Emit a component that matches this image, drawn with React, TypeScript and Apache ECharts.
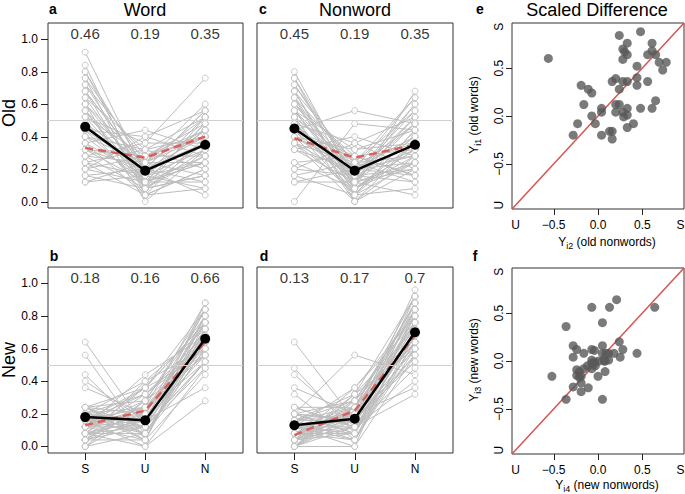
import React, { useEffect, useRef } from "react";
import * as echarts from "echarts";

const conditions = ["S", "U", "N"];
const propTicks = [0, 0.2, 0.4, 0.6, 0.8, 1.0];
const diffTicks = [-0.5, 0, 0.5];
const diffLabels = [-0.93, -0.5, 0, 0.5, 0.93];

// per subject [S, U, N] proportions
const oldWord: number[][] = [
  [0.92,0.16,0.44],[0.84,0.08,0.52],[0.80,0.20,0.56],[0.80,0.12,0.48],[0.76,0.24,0.60],[0.76,0.04,0.40],
  [0.72,0.16,0.52],[0.72,0.28,0.44],[0.68,0.08,0.36],[0.68,0.20,0.56],[0.64,0.12,0.48],[0.64,0.32,0.40],
  [0.60,0.00,0.32],[0.60,0.24,0.52],[0.60,0.16,0.44],[0.56,0.20,0.36],[0.56,0.08,0.28],[0.52,0.36,0.76],
  [0.52,0.12,0.24],[0.52,0.28,0.48],[0.48,0.04,0.20],[0.48,0.24,0.40],[0.48,0.16,0.32],[0.44,0.40,0.28],
  [0.44,0.20,0.36],[0.44,0.08,0.16],[0.40,0.32,0.52],[0.40,0.12,0.24],[0.40,0.24,0.44],[0.36,0.16,0.08],
  [0.36,0.44,0.32],[0.36,0.04,0.20],[0.32,0.28,0.40],[0.32,0.20,0.12],[0.32,0.12,0.28],[0.28,0.36,0.36],
  [0.28,0.08,0.16],[0.28,0.24,0.24],[0.24,0.16,0.44],[0.24,0.32,0.20],[0.24,0.04,0.08],[0.20,0.40,0.56],
  [0.20,0.12,0.12],[0.20,0.28,0.28],[0.16,0.20,0.04],[0.16,0.08,0.32],[0.12,0.16,0.24],[0.12,0.24,0.16],
  [0.68,0.20,0.40],[0.56,0.12,0.36]
];
const oldNonword: number[][] = [
  [0.80,0.12,0.60],[0.76,0.08,0.68],[0.72,0.16,0.52],[0.72,0.20,0.64],[0.68,0.04,0.44],[0.68,0.24,0.56],
  [0.64,0.12,0.40],[0.64,0.00,0.36],[0.60,0.20,0.48],[0.60,0.16,0.60],[0.60,0.28,0.32],[0.56,0.08,0.28],
  [0.56,0.12,0.52],[0.56,0.32,0.44],[0.52,0.04,0.24],[0.52,0.20,0.40],[0.52,0.24,0.36],[0.48,0.16,0.56],
  [0.48,0.36,0.20],[0.48,0.08,0.32],[0.44,0.12,0.48],[0.44,0.28,0.16],[0.44,0.56,0.48],[0.40,0.20,0.28],
  [0.40,0.04,0.44],[0.40,0.32,0.36],[0.36,0.16,0.12],[0.36,0.24,0.64],[0.36,0.00,0.20],[0.32,0.12,0.24],
  [0.32,0.40,0.28],[0.32,0.20,0.40],[0.24,0.08,0.32],[0.24,0.28,0.16],[0.20,0.16,0.20],[0.20,0.36,0.52],
  [0.16,0.24,0.12],[0.16,0.04,0.36],[0.12,0.12,0.04],[0.12,0.20,0.24],[0.00,0.48,0.44],[0.76,0.16,0.48],
  [0.68,0.08,0.36],[0.64,0.24,0.28],[0.48,0.12,0.20],[0.44,0.04,0.08],[0.36,0.08,0.24],[0.40,0.16,0.32],
  [0.56,0.20,0.16],[0.52,0.00,0.28]
];
const newWord: number[][] = [
  [0.64,0.12,0.68],[0.56,0.04,0.76],[0.44,0.08,0.60],[0.40,0.16,0.72],[0.36,0.20,0.52],[0.24,0.28,0.80],
  [0.24,0.08,0.64],[0.24,0.36,0.56],[0.20,0.12,0.88],[0.20,0.24,0.68],[0.20,0.04,0.44],[0.20,0.40,0.72],
  [0.16,0.16,0.84],[0.16,0.32,0.60],[0.16,0.00,0.48],[0.16,0.20,0.76],[0.16,0.08,0.64],[0.12,0.28,0.56],
  [0.12,0.12,0.80],[0.12,0.44,0.68],[0.12,0.16,0.36],[0.12,0.04,0.72],[0.12,0.24,0.60],[0.08,0.20,0.84],
  [0.08,0.08,0.52],[0.08,0.36,0.76],[0.08,0.12,0.64],[0.08,0.00,0.28],[0.08,0.32,0.68],[0.04,0.16,0.80],
  [0.04,0.24,0.56],[0.04,0.04,0.72],[0.04,0.40,0.60],[0.04,0.12,0.48],[0.00,0.20,0.76],[0.00,0.08,0.64],
  [0.00,0.28,0.84],[0.20,0.16,0.68],[0.24,0.12,0.52],[0.16,0.24,0.88],[0.12,0.20,0.72],[0.20,0.32,0.64],
  [0.08,0.16,0.56],[0.24,0.04,0.80],[0.16,0.36,0.76],[0.20,0.08,0.60],[0.24,0.20,0.76],[0.12,0.36,0.84],
  [0.04,0.28,0.64],[0.16,0.12,0.52]
];
const newNonword: number[][] = [
  [0.64,0.16,0.60],[0.48,0.08,0.72],[0.44,0.12,0.56],[0.36,0.20,0.84],[0.32,0.04,0.64],[0.24,0.24,0.76],
  [0.24,0.12,0.92],[0.20,0.56,0.44],[0.20,0.28,0.68],[0.20,0.08,0.80],[0.16,0.32,0.72],[0.16,0.16,0.96],
  [0.16,0.04,0.60],[0.16,0.20,0.52],[0.12,0.24,0.88],[0.12,0.12,0.68],[0.12,0.36,0.76],[0.12,0.00,0.56],
  [0.12,0.16,0.84],[0.08,0.20,0.64],[0.08,0.28,0.80],[0.08,0.08,0.72],[0.08,0.12,0.48],[0.08,0.24,0.92],
  [0.08,0.04,0.68],[0.04,0.16,0.76],[0.04,0.32,0.60],[0.04,0.20,0.88],[0.04,0.08,0.64],[0.04,0.12,0.32],
  [0.00,0.24,0.72],[0.00,0.00,0.84],[0.00,0.16,0.56],[0.00,0.20,0.76],[0.00,0.28,0.68],[0.24,0.12,0.40],
  [0.20,0.16,0.80],[0.16,0.24,0.64],[0.12,0.08,0.72],[0.08,0.20,0.36],[0.04,0.24,0.88],[0.12,0.04,0.76],
  [0.00,0.12,0.68],[0.16,0.28,0.84],[0.20,0.16,0.52],[0.04,0.36,0.80],[0.08,0.16,0.60],[0.20,0.08,0.88],
  [0.12,0.20,0.64],[0.00,0.32,0.92]
];

const oldWordMean = [0.46, 0.19, 0.35];
const oldWordModel = [0.33, 0.27, 0.40];
const oldNonwordMean = [0.45, 0.19, 0.35];
const oldNonwordModel = [0.39, 0.27, 0.35];
const newWordMean = [0.18, 0.16, 0.66];
const newWordModel = [0.13, 0.22, 0.64];
const newNonwordMean = [0.13, 0.17, 0.7];
const newNonwordModel = [0.07, 0.22, 0.68];

// scaled differences [nonword, word]
const oldScaled: number[][] = [
  [-0.56,0.60],[0.24,0.84],[0.48,0.88],[0.33,0.76],[0.28,0.70],[0.30,0.67],[0.33,0.64],[0.28,0.59],
  [0.61,0.76],[0.61,0.68],[0.56,0.64],[0.65,0.64],[0.69,0.56],[0.77,0.56],[0.73,0.48],[0.44,0.52],
  [0.20,0.39],[0.16,0.36],[0.28,0.36],[0.33,0.36],[0.44,0.40],[0.44,0.32],[0.56,0.36],[0.24,0.28],
  [-0.19,0.32],[-0.11,0.28],[-0.07,0.24],[-0.16,0.12],[0.04,0.08],[0.04,0.04],[0.20,0.12],[0.24,0.12],
  [0.20,0.04],[0.33,0.08],[0.28,0.04],[0.33,0.01],[0.29,-0.01],[0.48,0.08],[0.61,0.08],[0.65,0.16],
  [-0.07,0.00],[-0.23,-0.08],[-0.03,-0.08],[-0.28,-0.20],[0.04,-0.20],[0.13,-0.16],[0.16,-0.16],
  [0.16,-0.24],[0.33,-0.12],[0.40,-0.08]
];
const newScaled: number[][] = [
  [0.21,0.64],[0.64,0.56],[-0.07,0.56],[0.13,0.56],[0.05,0.40],[-0.36,0.36],[-0.28,0.16],[-0.24,0.12],
  [-0.16,0.08],[-0.28,0.04],[-0.07,0.12],[-0.04,0.11],[0.05,0.16],[0.05,0.08],[0.09,0.08],[0.18,0.08],
  [0.24,0.20],[0.28,0.12],[0.25,0.04],[0.44,0.08],[0.12,0.01],[0.07,0.00],[0.01,0.00],[-0.04,-0.01],
  [-0.07,-0.02],[-0.12,-0.05],[-0.16,-0.08],[-0.21,-0.11],[-0.24,-0.15],[-0.19,-0.16],[-0.07,-0.08],
  [-0.03,-0.05],[0.08,-0.11],[0.00,-0.16],[-0.52,-0.16],[-0.19,-0.23],[-0.28,-0.27],[-0.11,-0.28],
  [-0.19,-0.32],[-0.36,-0.40],[0.05,-0.40],[-0.24,-0.09],[-0.21,-0.17],[-0.07,0.01],[0.08,0.00],
  [0.12,0.08],[-0.05,-0.03]
];

const FONT = '"Liberation Sans", Arial, Helvetica, sans-serif';
const GRAY = "#bdbdbd";
const RED = "#d9605c";

const PROP_X = [0.38, 3.63];
const PROP_Y = [-0.04, 1.1];
const DIFF = [-0.97, 0.97];

const GRID_RECTS = [
  { left: 48, top: 23, width: 195, height: 185 },
  { left: 48, top: 267, width: 195, height: 186 },
  { left: 257, top: 23, width: 196, height: 185 },
  { left: 257, top: 267, width: 196, height: 186 },
  { left: 512, top: 23, width: 172, height: 186 },
  { left: 512, top: 268, width: 172, height: 186 },
];

// [gridIndex, xTickValues|null, yTickValues|null, tickLength, xRange, yRange]
const tickSpecs: [number, number[] | null, number[] | null, number, number[], number[]][] = [
  [0, null, propTicks, 7, PROP_X, PROP_Y],
  [1, [1, 2, 3], propTicks, 7, PROP_X, PROP_Y],
  [3, [1, 2, 3], null, 7, PROP_X, PROP_Y],
  [4, diffTicks, diffTicks, 6, DIFF, DIFF],
  [5, diffTicks, diffTicks, 6, DIFF, DIFF],
];

// tick marks drawn by a custom series through the axes' own scales
function tickSeries() {
  return tickSpecs.map(([g, xs, ys, len, xr, yr]) => {
    const data: number[][] = [];
    (xs || []).forEach((v) => data.push([v, yr[0], 0]));
    (ys || []).forEach((v) => data.push([xr[0], v, 1]));
    return {
      type: "custom", coordinateSystem: "cartesian2d", xAxisIndex: g, yAxisIndex: g,
      clip: false, silent: true, z: 10, data,
      renderItem: (_params: any, api: any) => {
        const p = api.coord([api.value(0), api.value(1)]);
        const dir = api.value(2);
        const x = Math.round(p[0]) + 0.5;
        const y = Math.round(p[1]) + 0.5;
        const shape = dir === 0 ? { x1: x, y1: p[1], x2: x, y2: p[1] + len } : { x1: p[0] - len, y1: y, x2: p[0], y2: y };
        return { type: "line", shape, style: { stroke: "#222", lineWidth: 1 } };
      },
    };
  });
}

function baseGraphic() {
  const txt = (text: string, x: number, y: number, size: number, bold = false, rot = 0) => ({
    type: "text", x, y, rotation: rot, silent: true,
    style: { text, fill: "#000", font: `${bold ? "bold " : ""}${size}px ${FONT}`, align: "center", verticalAlign: "middle" },
  });
  const rich = {
    n: { fontSize: 12, fontFamily: FONT, fill: "#000", color: "#000", lineHeight: 16, verticalAlign: "middle" },
    s: { fontSize: 9, fontFamily: FONT, fill: "#000", color: "#000", lineHeight: 9, verticalAlign: "bottom" },
  };
  const sub = (main: string, idx: string, rest: string, x: number, y: number, rot = 0) => ({
    type: "text", x, y, rotation: rot, silent: true,
    style: { text: `{n|${main}}{s|${idx}}{n|${rest}}`, rich, align: "center", verticalAlign: "middle", fill: "#000" },
  });
  return [
    txt("a", 53, 9, 14, true), txt("c", 263, 9, 14, true), txt("e", 480, 9, 14, true),
    txt("b", 54, 256, 14, true), txt("d", 264, 256, 14, true), txt("f", 475, 256, 14, true),
    txt("Word", 145, 9.5, 18), txt("Nonword", 355, 9.5, 18), txt("Scaled Difference", 597, 9.5, 18),
    txt("Old", 9, 113, 18, false, Math.PI / 2), txt("New", 9, 360, 18, false, Math.PI / 2),
    sub("Y", "i1", " (old words)", 474, 115, Math.PI / 2),
    sub("Y", "i3", " (new words)", 474, 360, Math.PI / 2),
    sub("Y", "i2", " (old nonwords)", 607, 242),
    sub("Y", "i4", " (new nonwords)", 607, 485),
  ];
}

function buildOption() {
  const grids = GRID_RECTS.map((g) => ({ ...g, show: true, borderColor: "#333", borderWidth: 1, backgroundColor: "transparent", outerBoundsMode: "none", containLabel: false }));

  const xAxes: any[] = [];
  const yAxes: any[] = [];
  const series: any[] = [];

  const panels = [
    { data: oldWord, mean: oldWordMean, model: oldWordModel, showX: false, showY: true },
    { data: newWord, mean: newWordMean, model: newWordModel, showX: true, showY: true },
    { data: oldNonword, mean: oldNonwordMean, model: oldNonwordModel, showX: false, showY: false },
    { data: newNonword, mean: newNonwordMean, model: newNonwordModel, showX: true, showY: false },
  ];
  const lbl = { color: "#000", fontFamily: FONT, fontSize: 12 };
  const axLine = { show: false, onZero: false };
  const noTick = { show: false };

  panels.forEach((p, i) => {
    xAxes.push({
      gridIndex: i, type: "value", min: PROP_X[0], max: PROP_X[1], position: "bottom",
      axisLine: axLine, splitLine: { show: false }, axisTick: noTick,
      axisLabel: { show: p.showX, customValues: [1, 2, 3], formatter: (v: number) => conditions[Math.round(v) - 1], margin: 10, ...lbl },
    });
    yAxes.push({
      gridIndex: i, type: "value", min: PROP_Y[0], max: PROP_Y[1], position: "left",
      axisLine: axLine, splitLine: { show: false }, axisTick: noTick,
      axisLabel: { show: p.showY, customValues: propTicks, formatter: (v: number) => v.toFixed(1), margin: 10, showMinLabel: true, showMaxLabel: true, ...lbl },
    });
    series.push({
      type: "line", xAxisIndex: i, yAxisIndex: i, data: [], silent: true, z: 0,
      markLine: { silent: true, symbol: "none", label: { show: false }, lineStyle: { color: "#d0d0d0", width: 1, type: "solid" }, data: [{ yAxis: 0.5 }] },
    });
    series.push({
      type: "lines", coordinateSystem: "cartesian2d", xAxisIndex: i, yAxisIndex: i, polyline: true, silent: true, z: 1,
      data: p.data.map((s) => ({ coords: s.map((v, j) => [j + 1, v]) })),
      lineStyle: { color: GRAY, width: 1, opacity: 1 },
    });
    series.push({
      type: "scatter", xAxisIndex: i, yAxisIndex: i, silent: true, z: 2,
      data: p.data.flatMap((s) => s.map((v, j) => [j + 1, v])),
      symbol: "circle", symbolSize: 6,
      itemStyle: { color: "#fff", borderColor: GRAY, borderWidth: 1 },
    });
    series.push({
      type: "line", xAxisIndex: i, yAxisIndex: i, silent: true, z: 3,
      data: p.model.map((v, j) => [j + 1, v]), symbol: "none",
      lineStyle: { color: RED, width: 2.5, type: [8, 5] },
    });
    series.push({
      type: "line", xAxisIndex: i, yAxisIndex: i, silent: true, z: 4,
      data: p.mean.map((v, j) => [j + 1, v]), symbol: "circle", symbolSize: 10,
      itemStyle: { color: "#000" }, lineStyle: { color: "#000", width: 2.5 },
    });
    series.push({
      type: "scatter", xAxisIndex: i, yAxisIndex: i, silent: true, z: 5,
      symbolSize: 1, itemStyle: { color: "transparent" },
      data: p.mean.map((v, j) => ({ value: [j + 1, 1.035], label: { formatter: String(v) } })),
      label: { show: true, position: "inside", color: "#000", fontFamily: FONT, fontSize: 15 },
    });
  });

  const diffFmt = (v: number) => (v < -0.9 ? "U" : v > 0.9 ? "S" : (v < 0 ? "\u2212" : "") + Math.abs(v).toFixed(1));
  [oldScaled, newScaled].forEach((d, k) => {
    const i = 4 + k;
    xAxes.push({
      gridIndex: i, type: "value", min: DIFF[0], max: DIFF[1], position: "bottom",
      axisLine: axLine, splitLine: { show: false }, axisTick: noTick,
      axisLabel: { customValues: diffLabels, formatter: diffFmt, margin: 10, showMinLabel: true, showMaxLabel: true, ...lbl },
    });
    yAxes.push({
      gridIndex: i, type: "value", min: DIFF[0], max: DIFF[1], position: "left",
      axisLine: axLine, splitLine: { show: false }, axisTick: noTick,
      axisLabel: { customValues: diffLabels, formatter: diffFmt, margin: 7, rotate: 90, showMinLabel: true, showMaxLabel: true, ...lbl },
    });
    series.push({
      type: "line", xAxisIndex: i, yAxisIndex: i, silent: true, z: 1, symbol: "none",
      data: [[DIFF[0], DIFF[0]], [DIFF[1], DIFF[1]]], lineStyle: { color: "#d9534f", width: 1.5 },
    });
    series.push({
      type: "scatter", xAxisIndex: i, yAxisIndex: i, silent: true, z: 2,
      data: d, symbol: "circle", symbolSize: 9, itemStyle: { color: "#595959" },
    });
  });

  series.push(...tickSeries());

  return {
    animation: false, backgroundColor: "#fff", grid: grids, xAxis: xAxes, yAxis: yAxes, series,
    graphic: baseGraphic(),
  };
}

export default function App() {
  const ref = useRef<HTMLDivElement>(null);
  useEffect(() => {
    if (!ref.current) return;
    const chart = echarts.init(ref.current, undefined, { renderer: "svg" });
    chart.setOption(buildOption() as any);
    return () => chart.dispose();
  }, []);
  return <div ref={ref} style={{ position: "fixed", left: 0, top: 0, width: 685, height: 494, background: "#fff" }} />;
}
